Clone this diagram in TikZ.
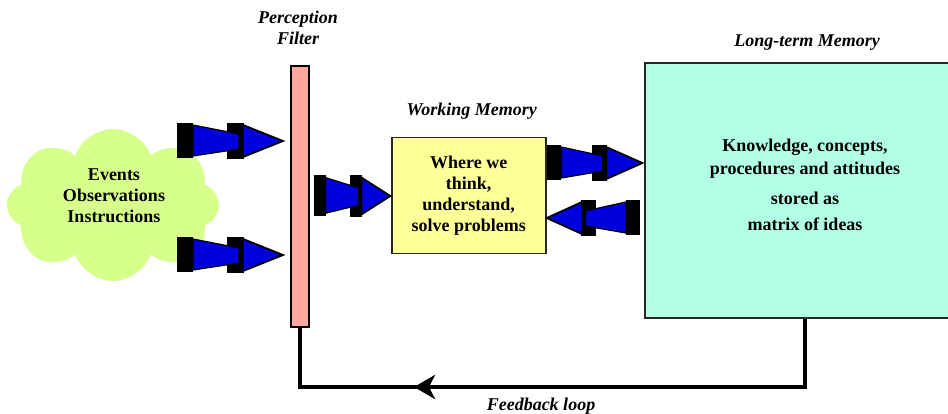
\documentclass[tikz,border=0pt]{standalone}
\usepackage{fontspec}
\setmainfont{Liberation Serif}
\usetikzlibrary{shapes.symbols,arrows.meta}
\definecolor{cloudgreen}{RGB}{215,255,140}
\definecolor{filterpink}{RGB}{255,168,158}
\definecolor{wmyellow}{RGB}{255,255,153}
\definecolor{ltmcyan}{RGB}{178,255,230}
\definecolor{arrowblue}{RGB}{0,0,220}
\tikzset{
  fatarrow/.pic={
    \fill[black] (0,-18) rectangle (16,17);
    \fill[black] (50,-18) rectangle (67,18);
    \filldraw[fill=arrowblue,draw=black,line width=0.6pt] (16,-16) -- (62,-7) -- (62,8) -- (16,15) -- cycle;
    \filldraw[fill=arrowblue,draw=black,line width=0.9pt,line join=miter] (66,-16) -- (106,0) -- (66,16) -- cycle;
  },
  boldtext/.style={font=\bfseries\fontsize{9}{10.45}\selectfont, align=center, inner sep=0pt},
  label/.style={font=\bfseries\itshape\fontsize{9}{10.5}\selectfont, align=center, inner sep=0pt},
  feedline/.style={line width=2.2pt},
}
\begin{document}
\begin{tikzpicture}[x=0.5pt,y=-0.5pt]
\useasboundingbox (0,0) rectangle (948,413);
\clip (0,0) rectangle (948,413);
% cloud
\node[cloud, cloud puffs=8, cloud puff arc=140, fill=cloudgreen, minimum width=106pt, minimum height=76pt, inner sep=0pt] (cloud) at (113,205) {};
\node[boldtext] (cloudtext) at (114,196) {Events\\Observations\\Instructions};
% filter
\node[draw=black, line width=0.8pt, fill=filterpink, minimum width=9pt, minimum height=130.5pt, inner sep=0pt] (filter) at (300,196.5) {};
\node[label, anchor=base] (filterlabel) at (298,44) {Perception\\Filter};
% working memory
\node[draw=black!85, line width=0.9pt, fill=wmyellow, minimum width=77pt, minimum height=58pt, boldtext] (wm) at (468.7,195.5) {Where we\\think,\\understand,\\solve problems};
\node[label, anchor=base] (wmlabel) at (471.7,115.7) {Working Memory};
% long-term memory
\node[draw=black!85, line width=1pt, fill=ltmcyan, minimum width=160pt, minimum height=127.5pt, inner sep=0pt] (ltm) at (805,190.5) {};
\node[boldtext, font=\bfseries\fontsize{9}{11.3}\selectfont] (ltmtext) at (805,185) {Knowledge, concepts,\\procedures and attitudes\\[3.7pt]stored as\\[2pt]matrix of ideas};
\node[label, anchor=base] (ltmlabel) at (807,46.7) {Long-term Memory};
% block arrows
\pic (a1) at (177,141) {fatarrow};
\pic (a2) at (177,255) {fatarrow};
\pic[xscale=0.72, yscale=1.15] (a3) at (314,196) {fatarrow};
\pic[xscale=0.9] (a4) at (547,163) {fatarrow};
\pic[xscale=-0.88] (a5) at (640,218) {fatarrow};
% feedback loop
\coordinate (fbR) at (805,387);
\coordinate (fbL) at (300,387);
\coordinate (fbM) at (414,387);
\draw[feedline, line join=miter] (ltm.south) -- (fbR) -- (fbL) -- (filter.south);
\draw[feedline, -{Stealth[length=10.5pt,width=12pt,inset=3pt]}] (fbR) -- (fbM);
\node[label, anchor=base] (fblabel) at (541,410) {Feedback loop};
\end{tikzpicture}
\end{document}
